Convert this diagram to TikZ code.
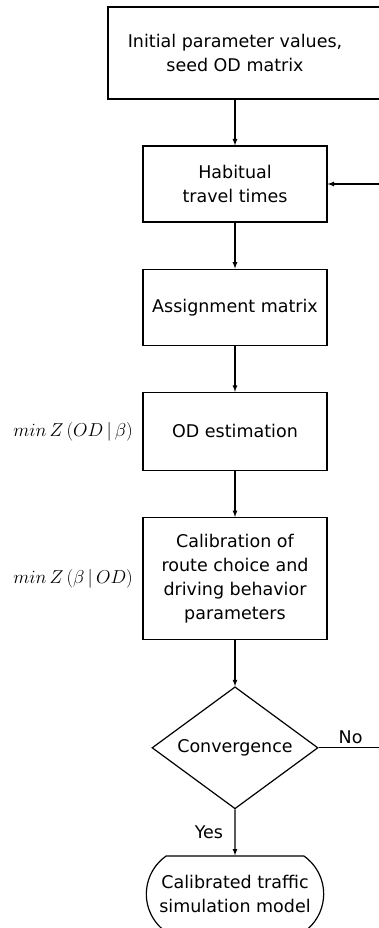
\RequirePackage{fix-cm}
\documentclass[tikz,border=0pt]{standalone}
\usepackage{amsmath}
\usepackage{fontspec}
\setmainfont{DejaVu Sans}
\usetikzlibrary{shapes,arrows,positioning,shapes.geometric,shapes.misc}
\tikzstyle{arrow} = [
    line width=1.2pt,
    -latex,
    draw=black
]
\tikzstyle{block} = [
    rectangle,
    draw=black,
    line width=1.2pt,
    minimum width=184pt,
    align=center,
    font=\fontsize{17.5}{24}\selectfont
]
\tikzstyle{decision} = [
    diamond,
    aspect=1.36,
    draw=black,
    line width=1.2pt,
    minimum width=166pt,
    minimum height=122pt,
    inner sep=0pt,
    font=\fontsize{17.5}{24}\selectfont
]
\tikzstyle{terminal} = [
    rounded rectangle,
    rounded rectangle arc length=110,
    draw=black,
    line width=1.2pt,
    minimum width=184pt,
    minimum height=76pt,
    align=center,
    font=\fontsize{17.5}{24}\selectfont
]
\tikzstyle{formula} = [
    font=\fontsize{18.7}{22}\selectfont
]
\tikzstyle{tag} = [
    font=\fontsize{17.5}{22}\selectfont
]

\begin{document}
\begin{tikzpicture}[x=1pt, y=-1pt, node distance=46pt]
    \useasboundingbox (0,0) rectangle (378,928);
    % boxes
    \node[block, minimum width=277pt, minimum height=92pt] (init) at (246.5,53) {};
    \node[block, draw=none, minimum width=0pt] (inittext) at (235,53) {Initial parameter values,\\seed OD matrix};
    \node[block, minimum height=76pt] (hab) at (235,184) {Habitual\\travel times};
    \node[block, minimum height=76pt, below=of hab] (assign) {Assignment matrix};
    \node[block, minimum height=78pt, below=of assign] (odest) {OD estimation};
    \node[block, minimum height=122pt, below=of odest] (calib) {Calibration of\\route choice and\\driving behavior\\parameters};
    \node[decision, below=of calib] (conv) {Convergence};
    \node[terminal, below=of conv] (model) {Calibrated traffic\\simulation model};
    % objective functions
    \node[formula, left=6pt of odest] (minod) {$min\,Z\left(OD\,|\,\beta\right)$};
    \node[formula, left=6pt of calib] (minbeta) {$min\,Z\left(\beta\,|\,OD\right)$};
    % connectors
    \draw[arrow] (init.south -| hab.north) -- (hab.north);
    \draw[arrow] (hab) -- (assign);
    \draw[arrow] (assign) -- (odest);
    \draw[arrow] (odest) -- (calib);
    \draw[arrow] (calib) -- (conv);
    \draw[arrow] (conv) -- node[tag, left=8pt] {Yes} (model);
    \draw[arrow] (conv.east) -- node[tag, above] {No} ++(64,0) |- (hab.east);
\end{tikzpicture}
\end{document}
